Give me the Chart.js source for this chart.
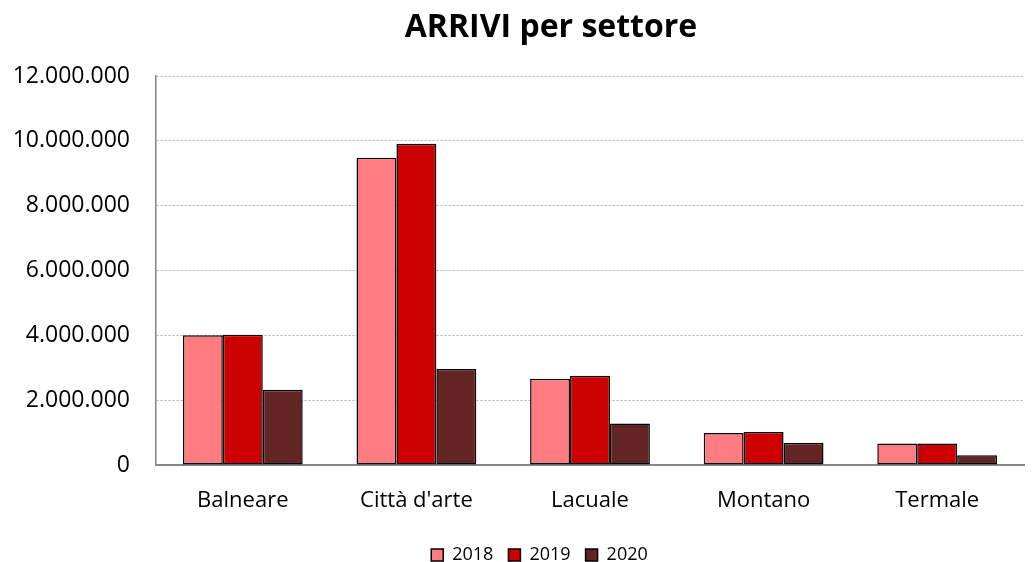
<!DOCTYPE html>
<html>
<head>
<meta charset="utf-8">
<script src="https://cdn.jsdelivr.net/npm/chart.js@4/dist/chart.umd.min.js"></script>
<style>
html,body{margin:0;padding:0;background:#fff;}
#wrap{width:1035px;height:562px;}
</style>
</head>
<body>
<div id="wrap"><canvas id="c" width="1035" height="562"></canvas></div>
<script>
const chartTitle = 'ARRIVI per settore';
const categories = ['Balneare', "Città d'arte", 'Lacuale', 'Montano', 'Termale'];
const seriesNames = ['2018', '2019', '2020'];
const v2018 = [4000000, 9480000, 2660000, 990000, 660000];
const v2019 = [4020000, 9910000, 2750000, 1020000, 660000];
const v2020 = [2320000, 2960000, 1280000, 690000, 300000];
const yTicks = [0, 2000000, 4000000, 6000000, 8000000, 10000000, 12000000];

const colors = ['#FF7C80', '#CC0000', '#632523'];
const FONT = '"Open Sans", "Liberation Sans", sans-serif';

function fmt(v) {
  return String(Math.round(v)).replace(/\B(?=(\d{3})+(?!\d))/g, '.');
}

const titlePlugin = {
  id: 'customTitle',
  afterDraw(chart) {
    const ctx = chart.ctx;
    ctx.save();
    ctx.font = 'bold 32px ' + FONT;
    ctx.fillStyle = '#000';
    ctx.textAlign = 'center';
    ctx.textBaseline = 'middle';
    ctx.fillText(chartTitle, 551, 28);
    ctx.restore();
  }
};

const legendShift = {
  id: 'legendShift',
  afterLayout(chart) {
    if (chart.legend) {
      chart.legend.left = 55;
      chart.legend.right = 1024;
    }
  }
};

new Chart(document.getElementById('c'), {
  type: 'bar',
  data: {
    labels: categories,
    datasets: [v2018, v2019, v2020].map((d, i) => ({
      label: seriesNames[i],
      data: d,
      backgroundColor: colors[i],
      borderColor: '#000',
      borderWidth: 1.5,
      borderSkipped: false,
      categoryPercentage: 0.69,
      barPercentage: 1.0
    }))
  },
  options: {
    responsive: false,
    animation: false,
    layout: { padding: { left: 0, right: 11, top: 76, bottom: 0 } },
    plugins: {
      title: { display: false },
      tooltip: { enabled: false },
      legend: {
        position: 'bottom',
        maxHeight: 31,
        labels: {
          boxWidth: 12,
          boxHeight: 12,
          padding: 15,
          color: '#000',
          font: { family: FONT, size: 18 }
        }
      }
    },
    scales: {
      x: {
        grid: { display: false, drawTicks: false },
        border: { display: true, color: '#868686', width: 2 },
        ticks: { color: '#000', padding: 23, font: { family: FONT, size: 22 } },
        afterFit(s) { s.height = 66; }
      },
      y: {
        min: 0,
        max: 12000000,
        afterBuildTicks(s) { s.ticks = yTicks.map(v => ({ value: v })); },
        grid: { color: '#B0B0B0', lineWidth: 1, drawTicks: false },
        border: { display: true, color: '#868686', width: 1.5, dash: [2, 2] },
        ticks: {
          color: '#000',
          padding: 26,
          font: { family: FONT, size: 23 },
          callback: (v) => fmt(v)
        },
        afterFit(s) { s.width = 156; }
      }
    }
  },
  plugins: [titlePlugin, legendShift]
});
</script>
</body>
</html>
